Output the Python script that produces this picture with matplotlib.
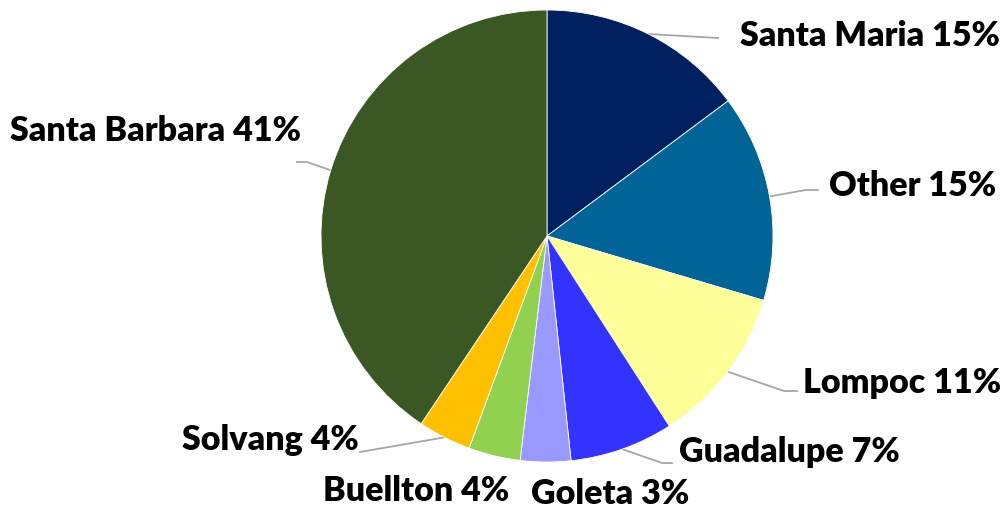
import numpy as np
import matplotlib
matplotlib.use("Agg")
import matplotlib.pyplot as plt

cities = ["Santa Maria", "Other", "Lompoc", "Guadalupe", "Goleta", "Buellton", "Solvang", "Santa Barbara"]
shares = [14.8, 14.8, 11.3, 7.4, 3.6, 3.7, 3.8, 40.6]
pct_labels = ["15%", "15%", "11%", "7%", "3%", "4%", "4%", "41%"]
colors = ["#002060", "#006496", "#FFFF99", "#3333FF", "#9999FF", "#92D050", "#FFC000", "#3A5724"]

W, H = 1005, 511
fig = plt.figure(figsize=(W / 100, H / 100), dpi=100)
ax = fig.add_axes([0, 0, 1, 1])

cx, cy, r = 547, H - 236, 226
wedges, _ = ax.pie(shares, colors=colors, startangle=90, counterclock=False,
                   center=(cx, cy), radius=r, frame=True,
                   wedgeprops=dict(edgecolor="white", linewidth=0.6))
ax.set_xlim(0, W)
ax.set_ylim(0, H)
ax.set_aspect("equal")
ax.axis("off")

# label placement in pixel coords (left x, center y from top), elbow and end of leader
label_pos = [(740, 36), (829, 186), (803, 383), (679, 452), (531, 494), (323, 491), (182, 440), (10, 131)]
leaders = [
    [(718, 38)],
    [(806, 190), (818, 190)],
    [(784, 391), (797, 391)],
    [(662, 463), (672, 463)],
    None,
    None,
    [(360, 452)],
    [(307, 162), (297, 162)],
]

for w, name, pct, (lx, ly), ld in zip(wedges, cities, pct_labels, label_pos, leaders):
    if ld is not None:
        mid = np.deg2rad((w.theta1 + w.theta2) / 2)
        xs = [cx + r * np.cos(mid)] + [p[0] for p in ld]
        ys = [cy + r * np.sin(mid)] + [H - p[1] for p in ld]
        ax.plot(xs, ys, color="#A6A6A6", linewidth=1.3, zorder=0)
    ax.text(lx, H - ly, f"{name} {pct}", ha="left", va="center",
            fontsize=24.5, fontweight="heavy", family="Lato", color="black")

fig.savefig("out.png", dpi=100)
